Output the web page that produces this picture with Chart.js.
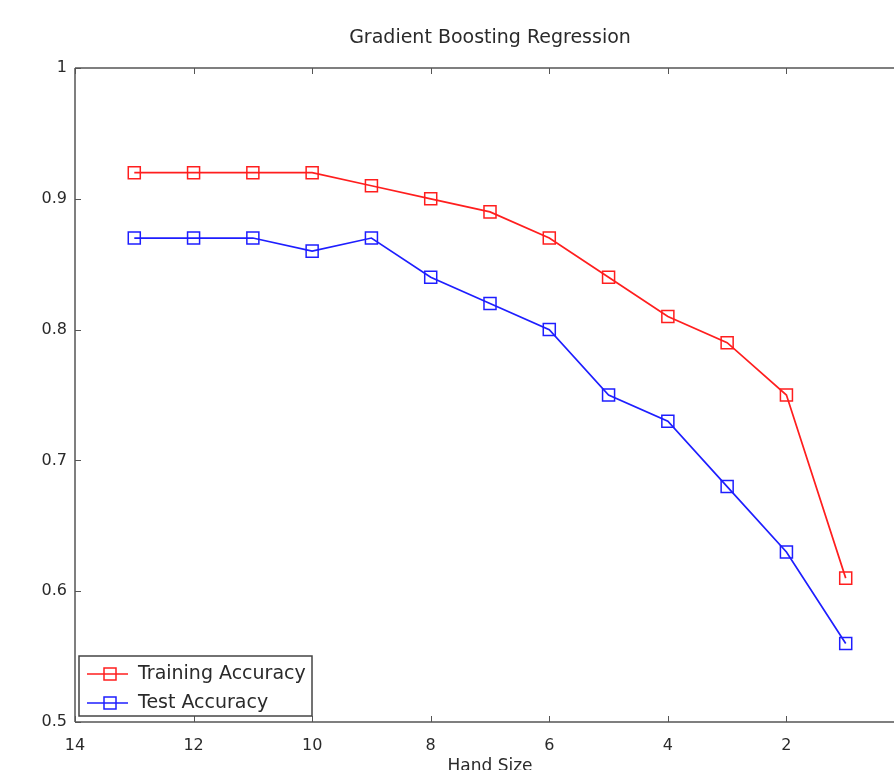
<!DOCTYPE html>
<html>
<head>
<meta charset="utf-8">
<title>Gradient Boosting Regression</title>
<script src="https://cdn.jsdelivr.net/npm/chart.js@4"></script>
<style>
  html, body { margin: 0; padding: 0; background: #fff; overflow: hidden; }
  canvas { display: block; }
</style>
</head>
<body>
<canvas id="chart" width="940" height="790"></canvas>
<script>
// values
const handSize = [13, 12, 11, 10, 9, 8, 7, 6, 5, 4, 3, 2, 1];
const trainAcc = [0.92, 0.92, 0.92, 0.92, 0.91, 0.90, 0.89, 0.87, 0.84, 0.81, 0.79, 0.75, 0.61];
const testAcc  = [0.87, 0.87, 0.87, 0.86, 0.87, 0.84, 0.82, 0.80, 0.75, 0.73, 0.68, 0.63, 0.56];
const xTicks = [14, 12, 10, 8, 6, 4, 2, 0];
const yTicks = [0.5, 0.6, 0.7, 0.8, 0.9, 1];
const chartTitle = "Gradient Boosting Regression";

const FONT = "'DejaVu Sans', Verdana, sans-serif";
const AXIS = "#555";
const TEXT = "#2a2a2a";

const toPoints = (ys) => handSize.map((x, i) => ({ x: x, y: ys[i] }));

// title centred over the axes box (the figure is cropped on the right)
const axesTitle = {
  id: "axesTitle",
  afterDraw(chart) {
    const { ctx, chartArea: a } = chart;
    ctx.save();
    ctx.font = "19px " + FONT;
    ctx.fillStyle = TEXT;
    ctx.textAlign = "center";
    ctx.textBaseline = "middle";
    ctx.fillText(chartTitle, (a.left + a.right) / 2, 38);
    ctx.restore();
  }
};

// MATLAB-style box: left/top/bottom lines with inward ticks
const boxAxes = {
  id: "boxAxes",
  afterDatasetsDraw(chart) {
    const { ctx, chartArea: a, scales: { x, y } } = chart;
    const t = 6;
    ctx.save();
    ctx.strokeStyle = AXIS;
    ctx.lineWidth = 1.5;
    ctx.beginPath();
    ctx.moveTo(a.left, a.top); ctx.lineTo(chart.width, a.top);
    ctx.moveTo(a.left, a.bottom); ctx.lineTo(chart.width, a.bottom);
    ctx.moveTo(a.left, a.top); ctx.lineTo(a.left, a.bottom);
    ctx.stroke();
    ctx.lineWidth = 1;
    ctx.beginPath();
    xTicks.forEach(v => {
      const px = Math.round(x.getPixelForValue(v)) + 0.5;
      ctx.moveTo(px, a.bottom); ctx.lineTo(px, a.bottom - t);
      ctx.moveTo(px, a.top); ctx.lineTo(px, a.top + t);
    });
    yTicks.forEach(v => {
      const py = Math.round(y.getPixelForValue(v)) + 0.5;
      ctx.moveTo(a.left, py); ctx.lineTo(a.left + t, py);
    });
    ctx.stroke();
    ctx.restore();
  }
};

// legend drawn inside the axes, bottom left
const insideLegend = {
  id: "insideLegend",
  afterDraw(chart) {
    const { ctx, chartArea: a } = chart;
    const x0 = a.left + 4, y0 = a.bottom - 66, w = 233, h = 60;
    ctx.save();
    ctx.fillStyle = "#fff";
    ctx.fillRect(x0, y0, w, h);
    ctx.strokeStyle = "#444";
    ctx.lineWidth = 1.5;
    ctx.strokeRect(x0, y0, w, h);
    ctx.font = "19px " + FONT;
    ctx.textBaseline = "middle";
    chart.data.datasets.forEach((ds, i) => {
      const cy = y0 + 18 + i * 29;
      ctx.strokeStyle = ds.borderColor;
      ctx.lineWidth = 1.5;
      ctx.beginPath();
      ctx.moveTo(x0 + 8, cy); ctx.lineTo(x0 + 49, cy);
      ctx.stroke();
      ctx.strokeRect(x0 + 25, cy - 6, 12, 12);
      ctx.fillStyle = TEXT;
      ctx.fillText(ds.label, x0 + 59, cy);
    });
    ctx.restore();
  }
};

new Chart(document.getElementById("chart"), {
  type: "line",
  data: {
    datasets: [
      {
        label: "Training Accuracy",
        data: toPoints(trainAcc),
        borderColor: "rgb(255, 30, 30)",
        backgroundColor: "rgba(0,0,0,0)",
        borderWidth: 1.7,
        pointStyle: "rect",
        pointRadius: 8.5,
        pointBorderWidth: 1.5,
        pointBackgroundColor: "rgba(0,0,0,0)",
        tension: 0
      },
      {
        label: "Test Accuracy",
        data: toPoints(testAcc),
        borderColor: "rgb(30, 30, 255)",
        backgroundColor: "rgba(0,0,0,0)",
        borderWidth: 1.7,
        pointStyle: "rect",
        pointRadius: 8.5,
        pointBorderWidth: 1.5,
        pointBackgroundColor: "rgba(0,0,0,0)",
        tension: 0
      }
    ]
  },
  options: {
    responsive: false,
    animation: false,
    layout: { padding: { left: 0, right: 35, top: 68, bottom: 0 } },
    plugins: {
      legend: { display: false },
      tooltip: { enabled: false },
      title: { display: false }
    },
    scales: {
      x: {
        type: "linear",
        reverse: true,
        min: 0,
        max: 14,
        afterFit(scale) { scale.height = 68; },
        afterBuildTicks(scale) { scale.ticks = xTicks.map(v => ({ value: v })); },
        grid: { display: false, drawTicks: false },
        border: { display: false },
        ticks: { color: TEXT, font: { family: FONT, size: 16 }, padding: 14, maxRotation: 0 },
        title: {
          display: true,
          text: "Hand Size",
          color: TEXT,
          font: { family: FONT, size: 17 },
          padding: { top: 0, bottom: 13 }
        }
      },
      y: {
        min: 0.5,
        max: 1,
        afterFit(scale) { scale.width = 75; },
        afterBuildTicks(scale) { scale.ticks = yTicks.map(v => ({ value: v })); },
        grid: { display: false, drawTicks: false },
        border: { display: false },
        ticks: {
          color: TEXT,
          font: { family: FONT, size: 16 },
          padding: 8,
          callback: (v) => String(Number(v.toFixed(1)))
        }
      }
    }
  },
  plugins: [boxAxes, insideLegend, axesTitle]
});
</script>
</body>
</html>
